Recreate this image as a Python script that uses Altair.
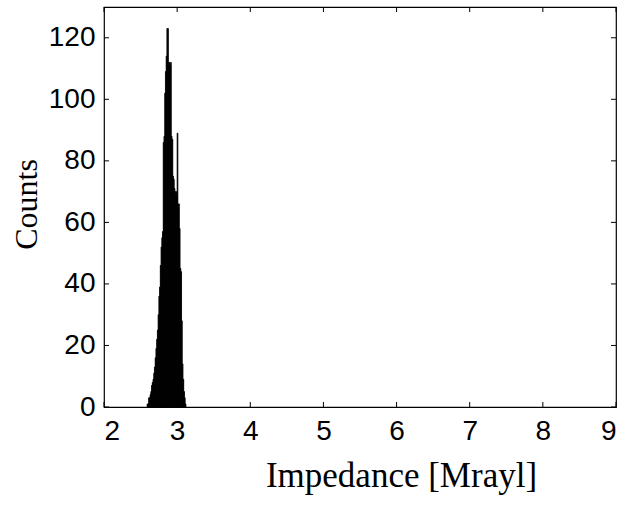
import altair as alt
import pandas as pd

# Histogram bins (left edge, width 0.01 Mrayl) and counts
bin_starts = [2.59, 2.60, 2.61, 2.62, 2.63, 2.64, 2.65, 2.66, 2.67, 2.68,
              2.69, 2.70, 2.71, 2.72, 2.73, 2.74, 2.75, 2.76, 2.77, 2.78,
              2.79, 2.80, 2.81, 2.82, 2.83, 2.84, 2.85, 2.86, 2.87, 2.88,
              2.89, 2.90, 2.91, 2.92, 2.93, 2.94, 2.95, 2.96, 2.97, 2.98,
              2.99, 3.00, 3.01, 3.02, 3.03, 3.04, 3.05, 3.06, 3.07, 3.08,
              3.09, 3.10, 3.11]
counts = [1, 1, 3, 3, 4, 5, 7, 8, 9, 11,
          13, 16, 19, 22, 25, 30, 36, 39, 46, 52,
          55, 57, 86, 88, 102, 109, 114, 123, 123, 112,
          112, 111, 112, 88, 87, 75, 74, 71, 70, 69,
          70, 89, 66, 66, 58, 45, 44, 28, 14, 9,
          5, 3, 1]
bin_width = 0.01

x_ticks = [2, 3, 4, 5, 6, 7, 8, 9]
y_ticks = [0, 20, 40, 60, 80, 100, 120]

W, H = 512, 400
TICK = 5

df = pd.DataFrame({"start": bin_starts, "count": counts})
df["end"] = df["start"] + bin_width

xs = alt.Scale(domain=[2, 9], nice=False, zero=False)
ys = alt.Scale(domain=[0, 130], nice=False)

bars = alt.Chart(df).mark_rect(color="black", stroke="black", strokeWidth=0.8).encode(
    x=alt.X("start:Q", scale=xs,
            axis=alt.Axis(values=x_ticks, title="Impedance [Mrayl]", format="d",
                          ticks=False, domain=False, grid=False,
                          labelPadding=10,
                          titleFontSize=35, titleX=297, titleY=79,
                          titleBaseline="alphabetic", titleAlign="center")),
    x2="end:Q",
    y=alt.Y("count:Q", scale=ys,
            axis=alt.Axis(values=y_ticks, title="Counts", format="d",
                          ticks=False, domain=False, grid=False,
                          labelPadding=9,
                          titleFontSize=32, titleX=-78, titleY=197,
                          titleBaseline="middle", titleAlign="center")),
    y2=alt.datum(0),
)

xt = pd.DataFrame({"v": x_ticks})
yt = pd.DataFrame({"v": y_ticks})

bottom_ticks = alt.Chart(xt).mark_rule(color="black", strokeWidth=1).encode(
    x=alt.X("v:Q", scale=xs), y=alt.value(H), y2=alt.value(H - TICK))
top_ticks = alt.Chart(xt).mark_rule(color="black", strokeWidth=1).encode(
    x=alt.X("v:Q", scale=xs), y=alt.value(0), y2=alt.value(TICK))
left_ticks = alt.Chart(yt).mark_rule(color="black", strokeWidth=1).encode(
    y=alt.Y("v:Q", scale=ys), x=alt.value(0), x2=alt.value(TICK))
right_ticks = alt.Chart(yt).mark_rule(color="black", strokeWidth=1).encode(
    y=alt.Y("v:Q", scale=ys), x=alt.value(W), x2=alt.value(W - TICK))

chart = alt.layer(bars, bottom_ticks, top_ticks, left_ticks, right_ticks).properties(
    width=W, height=H,
    autosize=alt.AutoSizeParams(type="none"),
    padding={"left": 104, "top": 7, "right": 22, "bottom": 98},
    background="white",
).configure_view(
    stroke="black", strokeWidth=1.2
).configure_axis(
    labelFont="Liberation Sans", labelFontSize=28, labelColor="black",
    titleFont="Liberation Serif", titleFontWeight="normal",
    titleColor="black",
)

chart.save("out.html", embed_options={"renderer": "svg", "actions": False})
